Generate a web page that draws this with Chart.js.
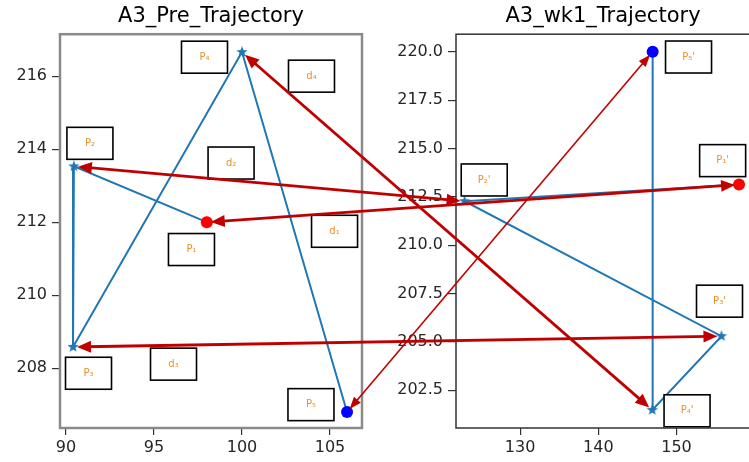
<!DOCTYPE html>
<html>
<head>
<meta charset="utf-8">
<script src="https://cdn.jsdelivr.net/npm/chart.js@4.4.0/dist/chart.umd.min.js"></script>
<style>
  html, body { margin: 0; padding: 0; background: #fff; }
  #wrap { position: relative; width: 749px; height: 462px; overflow: hidden; }
  #left { position: absolute; left: 0; top: 0; }
  #right { position: absolute; left: 370px; top: 0; }
  #arrows { position: absolute; left: 0; top: 0; pointer-events: none; }
</style>
</head>
<body>
<div id="wrap">
  <canvas id="left" width="372" height="462"></canvas>
  <canvas id="right" width="387" height="462"></canvas>
  <canvas id="arrows" width="749" height="462"></canvas>
</div>
<script>
// trajectory points P1..P5 (pre) and P1'..P5' (wk1)
const preX = [98.0, 90.45, 90.4, 100.0, 105.97];
const preY = [212.0, 213.53, 208.58, 216.66, 206.8];
const wk1X = [158.0, 122.9, 155.75, 146.9, 146.95];
const wk1Y = [213.13, 212.27, 205.29, 201.47, 220.0];

const preXTicks = [90, 95, 100, 105];
const preYTicks = [208, 210, 212, 214, 216];
const wk1XTicks = [130, 140, 150];
const wk1YTicks = [202.5, 205.0, 207.5, 210.0, 212.5, 215.0, 217.5, 220.0];

// text boxes (data coords of box centre)
const preLabels = ['P₄', 'd₄', 'P₂', 'd₂', 'd₁', 'P₁', 'd₃', 'P₃', 'P₅'];
const preLabelX = [97.87, 103.95, 91.36, 99.38, 105.26, 97.13, 96.11, 91.28, 103.92];
const preLabelY = [216.52, 216.0, 214.16, 213.62, 211.75, 211.25, 208.11, 207.86, 207.0];
const wk1Labels = ["P₅'", "P₁'", "P₂'", "P₃'", "P₄'"];
const wk1LabelX = [151.54, 155.9, 125.41, 155.5, 151.35];
const wk1LabelY = [219.73, 214.37, 213.37, 207.10, 201.43];

Chart.defaults.font.family = 'DejaVu Sans';
Chart.defaults.font.size = 16;
Chart.defaults.color = '#262626';

// filled 5-point star marker
const star = document.createElement('canvas');
star.width = 12; star.height = 12;
(function () {
  const c = star.getContext('2d');
  c.fillStyle = '#1f77b4';
  c.beginPath();
  for (let i = 0; i < 10; i++) {
    const r = i % 2 === 0 ? 6 : 2.5;
    const a = -Math.PI / 2 + i * Math.PI / 5;
    c.lineTo(6 + r * Math.cos(a), 6 + r * Math.sin(a));
  }
  c.closePath();
  c.fill();
})();

const boxPlugin = {
  id: 'boxes',
  afterDraw(chart, args, opts) {
    const ctx = chart.ctx, a = chart.chartArea;
    const sx = chart.scales.x, sy = chart.scales.y;
    ctx.save();
    opts.text.forEach((t, i) => {
      const cx = sx.getPixelForValue(opts.xs[i]);
      const cy = sy.getPixelForValue(opts.ys[i]);
      ctx.fillStyle = '#fff';
      ctx.fillRect(cx - 23, cy - 16, 46, 32);
      ctx.strokeStyle = '#000';
      ctx.lineWidth = 1.6;
      ctx.strokeRect(cx - 23, cy - 16, 46, 32);
      ctx.fillStyle = '#e8902e';
      ctx.font = '10px DejaVu Sans';
      ctx.textAlign = 'center';
      ctx.textBaseline = 'middle';
      ctx.fillText(t, cx, cy);
    });
    ctx.strokeStyle = opts.frameColor;
    ctx.lineWidth = opts.frameWidth;
    ctx.strokeRect(a.left, a.top, a.right - a.left, a.bottom - a.top);
    ctx.restore();
  }
};

function makeChart(id, title, xs, ys, xTicks, yTicks, xmin, xmax, ymin, ymax, yWidth, fmt, labels, lx, ly, frameColor, frameWidth, padRight) {
  const pts = xs.map((x, i) => ({ x: x, y: ys[i] }));
  return new Chart(document.getElementById(id), {
    type: 'scatter',
    data: {
      datasets: [
        {
          data: [pts[0], pts[pts.length - 1]],
          pointRadius: 6,
          pointBorderWidth: 0,
          pointBackgroundColor: ['#ff0000', '#0000ff'],
          showLine: false
        },
        {
          data: pts,
          showLine: true,
          borderColor: '#1f77b4',
          borderWidth: 2,
          pointStyle: star,
          pointRadius: 5
        }
      ]
    },
    options: {
      responsive: false,
      animation: false,
      layout: { padding: { left: 0, right: padRight, top: 0, bottom: 0 } },
      plugins: {
        legend: { display: false },
        tooltip: { enabled: false },
        title: { display: true, text: title, fullSize: false, font: { size: 21, weight: 'normal' }, color: '#000', padding: { top: 4, bottom: 5 } },
        boxes: { text: labels, xs: lx, ys: ly, frameColor: frameColor, frameWidth: frameWidth }
      },
      scales: {
        x: {
          type: 'linear', min: xmin, max: xmax,
          border: { display: false },
          grid: { drawOnChartArea: false, tickLength: 7, color: '#333', lineWidth: 1.2 },
          ticks: { padding: 3, maxRotation: 0 },
          afterBuildTicks: s => { s.ticks = xTicks.map(v => ({ value: v })); },
          afterFit: s => { s.height = 34; }
        },
        y: {
          type: 'linear', min: ymin, max: ymax,
          border: { display: false },
          grid: { drawOnChartArea: false, tickLength: 8, color: '#333', lineWidth: 1.2 },
          ticks: { padding: 5, callback: v => fmt(v) },
          afterBuildTicks: s => { s.ticks = yTicks.map(v => ({ value: v })); },
          afterFit: s => { s.width = yWidth; }
        }
      }
    },
    plugins: [boxPlugin]
  });
}

const left = makeChart('left', 'A3_Pre_Trajectory', preX, preY, preXTicks, preYTicks,
  89.66, 106.82, 206.36, 217.15, 60, v => String(v), preLabels, preLabelX, preLabelY, '#8a8a8a', 2.5, 10);
const right = makeChart('right', 'A3_wk1_Trajectory', wk1X, wk1Y, wk1XTicks, wk1YTicks,
  121.8, 159.4, 200.54, 220.91, 86, v => v.toFixed(1), wk1Labels, wk1LabelX, wk1LabelY, '#333', 1.5, 0);

// red double-headed arrows between matching points
function toPage(chart, canvas, x, y) {
  return [canvas.offsetLeft + chart.scales.x.getPixelForValue(x),
          canvas.offsetTop + chart.scales.y.getPixelForValue(y)];
}
function head(ctx, tip, ang, len, w) {
  ctx.beginPath();
  ctx.moveTo(tip[0], tip[1]);
  ctx.lineTo(tip[0] - len * Math.cos(ang) + w * Math.sin(ang), tip[1] - len * Math.sin(ang) - w * Math.cos(ang));
  ctx.lineTo(tip[0] - len * Math.cos(ang) - w * Math.sin(ang), tip[1] - len * Math.sin(ang) + w * Math.cos(ang));
  ctx.closePath();
  ctx.fill();
}
const ac = document.getElementById('arrows').getContext('2d');
ac.strokeStyle = '#c00000';
ac.fillStyle = '#c00000';
const lc = document.getElementById('left'), rc = document.getElementById('right');
for (let i = 0; i < preX.length; i++) {
  let a = toPage(left, lc, preX[i], preY[i]);
  let b = toPage(right, rc, wk1X[i], wk1Y[i]);
  const ang = Math.atan2(b[1] - a[1], b[0] - a[0]);
  const cs = Math.cos(ang), sn = Math.sin(ang);
  const thin = i === 4;
  const lw = thin ? 1.6 : 2.8, len = thin ? 12 : 14, w = thin ? 4.5 : 6;
  a = [a[0] + 4 * cs, a[1] + 4 * sn];
  b = [b[0] - 4 * cs, b[1] - 4 * sn];
  ac.lineWidth = lw;
  ac.beginPath();
  ac.moveTo(a[0] + len * 0.6 * cs, a[1] + len * 0.6 * sn);
  ac.lineTo(b[0] - len * 0.6 * cs, b[1] - len * 0.6 * sn);
  ac.stroke();
  head(ac, a, ang + Math.PI, len, w);
  head(ac, b, ang, len, w);
}
</script>
</body>
</html>
